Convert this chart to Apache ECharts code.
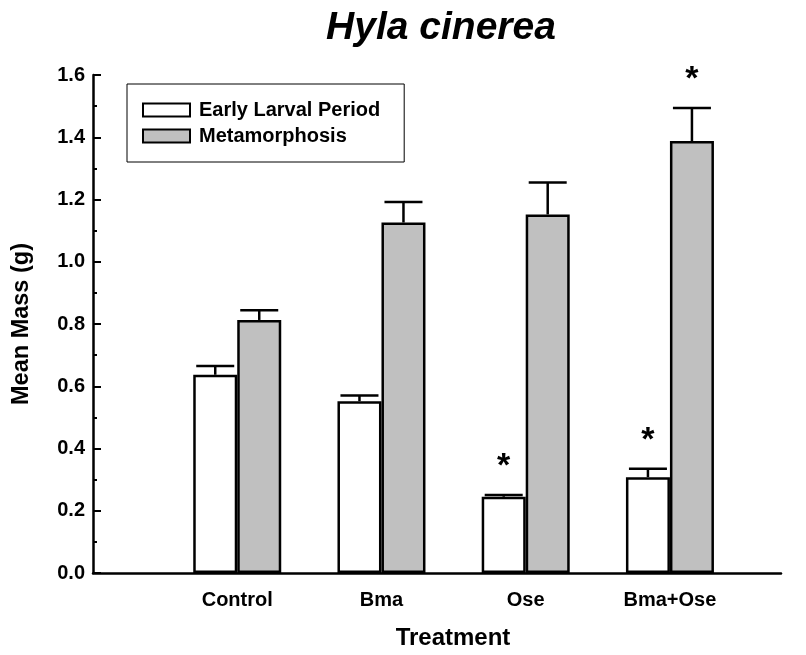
<!DOCTYPE html>
<html>
<head>
<meta charset="utf-8">
<script src="https://cdn.jsdelivr.net/npm/echarts@6/dist/echarts.min.js"></script>
<style>
html,body{margin:0;padding:0;background:#fff;}
#chart{width:806px;height:655px;}
</style>
</head>
<body>
<div id="chart"></div>
<script>
// ---- data ----
const categories = ['Control', 'Bma', 'Ose', 'Bma+Ose'];
const categoryPositions = [1, 2, 3, 4];
const earlyMeans = [0.637, 0.552, 0.245, 0.308];
const earlyErrors = [0.028, 0.018, 0.006, 0.027];
const metaMeans = [0.813, 1.126, 1.152, 1.388];
const metaErrors = [0.031, 0.066, 0.103, 0.106];
const earlySignificant = [0, 0, 1, 1];
const metaSignificant = [0, 0, 0, 1];
const yTicks = [0, 0.2, 0.4, 0.6, 0.8, 1.0, 1.2, 1.4, 1.6];

const FONT = '"Liberation Sans", Arial, Helvetica, sans-serif';
const BAR_W = 44;
const HALF = BAR_W / 2;
const CAP = 19;

function barData(means) {
  return categoryPositions.map((x, i) => [x, means[i]]);
}
function errData(means, errs, sig) {
  return categoryPositions.map((x, i) => [x, means[i], errs[i], sig[i]]);
}
function errRenderer(offsetPx) {
  return function (params, api) {
    const x = api.value(0), y = api.value(1), e = api.value(2), s = api.value(3);
    const base = api.coord([x, y]);
    const top = api.coord([x, y + e]);
    const cx = base[0] + offsetPx;
    const children = [
      { type: 'line', shape: { x1: cx, y1: base[1], x2: cx, y2: top[1] },
        style: { stroke: '#000', lineWidth: 2.5 } },
      { type: 'line', shape: { x1: cx - CAP, y1: top[1], x2: cx + CAP, y2: top[1] },
        style: { stroke: '#000', lineWidth: 2.5 } }
    ];
    if (s) {
      children.push({ type: 'text', x: cx, y: top[1] - 28,
        style: { text: '*', fill: '#000', font: 'bold 34px ' + FONT,
                 align: 'center', verticalAlign: 'middle' } });
    }
    return { type: 'group', children: children };
  };
}

const chart = echarts.init(document.getElementById('chart'), null, { renderer: 'canvas' });
chart.setOption({
  animation: false,
  backgroundColor: '#fff',
  title: {
    text: 'Hyla cinerea',
    left: 441, top: 9, padding: 0, textAlign: 'center',
    textStyle: { fontFamily: FONT, fontSize: 39, fontWeight: 'bold', fontStyle: 'italic', color: '#000' }
  },
  grid: { left: 93, right: 25, top: 75, bottom: 77, containLabel: false },
  legend: {
    orient: 'vertical',
    left: 127, top: 84,
    padding: [16, 24, 16, 15],
    itemWidth: 47, itemHeight: 13, itemGap: 6,
    icon: 'rect',
    borderColor: '#000', borderWidth: 1,
    data: ['Early Larval Period', 'Metamorphosis'],
    textStyle: { fontFamily: FONT, fontSize: 20, fontWeight: 'bold', color: '#000', lineHeight: 20, padding: [0, 0, 0, 4] }
  },
  xAxis: {
    type: 'value',
    min: 0, max: 4.77, interval: 1,
    name: 'Treatment',
    nameLocation: 'middle', nameGap: 53,
    nameTextStyle: { fontFamily: FONT, fontSize: 24, fontWeight: 'bold', color: '#000', padding: [0, 0, 0, 32] },
    axisLine: { show: true, lineStyle: { color: '#000', width: 2.5 } },
    axisTick: { show: false },
    splitLine: { show: false },
    axisLabel: {
      margin: 17,
      fontFamily: FONT, fontSize: 20, fontWeight: 'bold', color: '#000',
      showMaxLabel: false, showMinLabel: false,
      formatter: function (v) {
        const idx = categoryPositions.indexOf(Math.round(v * 1000) / 1000);
        return idx >= 0 ? categories[idx] : '';
      }
    }
  },
  yAxis: {
    type: 'value',
    min: yTicks[0], max: yTicks[yTicks.length - 1], interval: 0.2,
    name: 'Mean Mass (g)',
    nameLocation: 'middle', nameGap: 59,
    nameTextStyle: { fontFamily: FONT, fontSize: 23.5, fontWeight: 'bold', color: '#000' },
    axisLine: { show: true, lineStyle: { color: '#000', width: 2.5 } },
    axisTick: { show: true, inside: true, length: 8, lineStyle: { color: '#000', width: 2 } },
    minorTick: { show: true, splitNumber: 2, length: 4, lineStyle: { color: '#000', width: 2 } },
    splitLine: { show: false },
    axisLabel: {
      margin: 8,
      fontFamily: FONT, fontSize: 20, fontWeight: 'bold', color: '#000',
      formatter: function (v) { return v.toFixed(1); }
    }
  },
  series: [
    {
      name: 'Early Larval Period', type: 'bar',
      data: barData(earlyMeans),
      barWidth: BAR_W, barGap: '0%',
      itemStyle: { color: '#ffffff', borderColor: '#000', borderWidth: 2.5 }
    },
    {
      name: 'Metamorphosis', type: 'bar',
      data: barData(metaMeans),
      barWidth: BAR_W, barGap: '0%',
      itemStyle: { color: '#c0c0c0', borderColor: '#000', borderWidth: 2.5 }
    },
    {
      type: 'custom', name: 'earlyErr', clip: false, z: 5,
      renderItem: errRenderer(-HALF),
      data: errData(earlyMeans, earlyErrors, earlySignificant),
      encode: { x: 0, y: 1 }
    },
    {
      type: 'custom', name: 'metaErr', clip: false, z: 5,
      renderItem: errRenderer(HALF),
      data: errData(metaMeans, metaErrors, metaSignificant),
      encode: { x: 0, y: 1 }
    }
  ]
});
</script>
</body>
</html>
